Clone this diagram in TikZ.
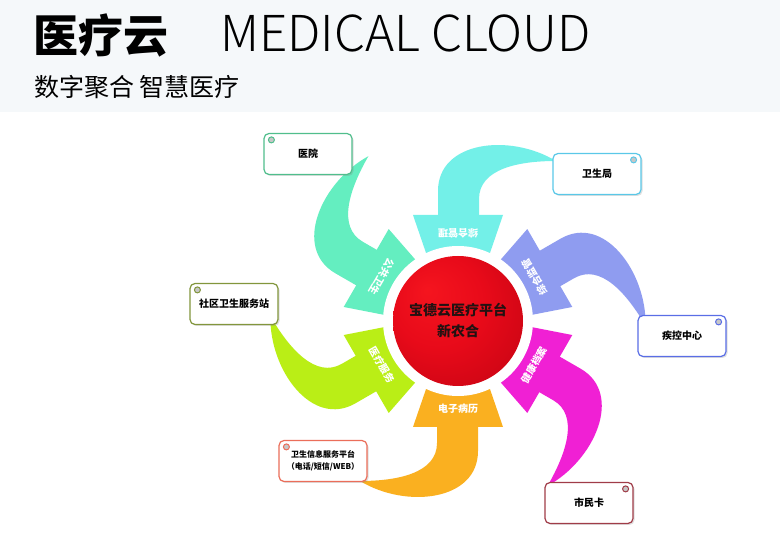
\documentclass[tikz,border=0pt]{standalone}
\usepackage{fontspec}
\newfontfamily\cjk{Noto Sans CJK SC}
\newfontfamily\cjkthin{Noto Sans CJK SC}[UprightFont=* Light]
\usetikzlibrary{shadows}

\definecolor{headbg}{RGB}{245,248,250}
\definecolor{hubtext}{RGB}{35,18,18}
\definecolor{aquaA}{RGB}{115,240,232}
\definecolor{tealA}{RGB}{100,238,192}
\definecolor{limeA}{RGB}{186,238,22}
\definecolor{orangeA}{RGB}{250,176,32}
\definecolor{magA}{RGB}{240,32,212}
\definecolor{blueA}{RGB}{143,156,240}
\definecolor{bHosp}{RGB}{80,190,140}
\definecolor{bBureau}{RGB}{90,200,232}
\definecolor{bStation}{RGB}{130,150,60}
\definecolor{bCdc}{RGB}{90,110,230}
\definecolor{bInfo}{RGB}{235,110,90}
\definecolor{bCard}{RGB}{160,60,72}

\pgfdeclareradialshading{redball}{\pgfpoint{-12bp}{12bp}}{%
  rgb(0bp)=(0.96,0.08,0.12); rgb(18bp)=(0.91,0.04,0.10); rgb(50bp)=(0.70,0.00,0.06)}

\begin{document}
\begin{tikzpicture}[x=1pt,y=1pt,
  box/.style={draw,line width=1.2pt,rounded corners=5pt,fill=white,
    minimum width=88pt,minimum height=41pt,align=center,
    font=\cjk\bfseries\fontsize{10}{13}\selectfont,
    drop shadow={opacity=0.25,shadow xshift=1.5pt,shadow yshift=-1.5pt}},
  hole/.style={circle,draw,line width=1pt,fill=black!22,inner sep=0pt,minimum size=6pt},
  tag/.style={text=white,inner sep=1pt,font=\cjk\bfseries\fontsize{10}{12}\selectfont}]

\fill[white] (0,0) rectangle (780,552);
\useasboundingbox (0,0) rectangle (780,552);
\fill[headbg] (0,440) rectangle (780,552);

% header
\node (title)[anchor=base west,inner sep=0pt,font=\cjk\bfseries\fontsize{45}{45}\selectfont] at (33,499) {医疗云};
\node (titleEn)[anchor=base west,inner sep=0pt,font=\cjkthin\fontsize{49.5}{50}\selectfont] at (220,500) {MEDICAL CLOUD};
\node (subtitle)[anchor=base west,inner sep=0pt,font=\cjk\fontsize{25}{25}\selectfont] at (34,455) {数字聚合 智慧医疗};

\coordinate (C) at (458,231);

% curved arrows
\foreach \rot/\col in {0/aquaA,60/tealA,120/limeA,180/orangeA,240/magA,300/blueA}{
  \begin{scope}[shift={(C)},rotate=\rot]
    \fill[\col] (-45,106) -- (0,-25) -- (45,106) -- cycle;
    \fill[\col] (-20,104) -- (-20,130) .. controls (-20,180) and (52,188) .. (98,160)
      .. controls (60,160) and (21,152) .. (21,122) -- (21,104) -- cycle;
  \end{scope}
}

% center
\fill[white] (C) circle (75);
\shade[shading=redball] (C) circle (65);
\node (hub)[align=center,text=hubtext,
  font=\cjk\bfseries\fontsize{14}{21}\selectfont] at (C) {宝德云医疗平台\\新农合};

% arrow labels
\foreach \rot/\txt in {0/综合管理,60/公共卫生,120/医疗服务,180/电子病历,240/健康档案,300/综合监管}{
  \node[tag,rotate=\rot+180] at ([shift={(\rot+90:88)}]C) {\txt};
}

% boxes
\node (hosp)[box,draw=bHosp] at (308,398) {医院};
\node (bureau)[box,draw=bBureau] at (597,378) {卫生局};
\node (station)[box,draw=bStation] at (234,248) {社区卫生服务站};
\node (cdc)[box,draw=bCdc] at (682,216) {疾控中心};
\node (info)[box,draw=bInfo,font=\cjk\bfseries\fontsize{8}{12}\selectfont] at (323,91) {卫生信息服务平台\\（电话/短信/WEB）};
\node (card)[box,draw=bCard] at (589,49) {市民卡};

\node[hole,draw=bHosp] at ([shift={(8,-7)}]hosp.north west) {};
\node[hole,draw=bBureau] at ([shift={(-8,-7)}]bureau.north east) {};
\node[hole,draw=bStation] at ([shift={(8,-7)}]station.north west) {};
\node[hole,draw=bCdc] at ([shift={(-8,-7)}]cdc.north east) {};
\node[hole,draw=bInfo] at ([shift={(8,-7)}]info.north west) {};
\node[hole,draw=bCard] at ([shift={(-8,-7)}]card.north east) {};
\end{tikzpicture}
\end{document}
